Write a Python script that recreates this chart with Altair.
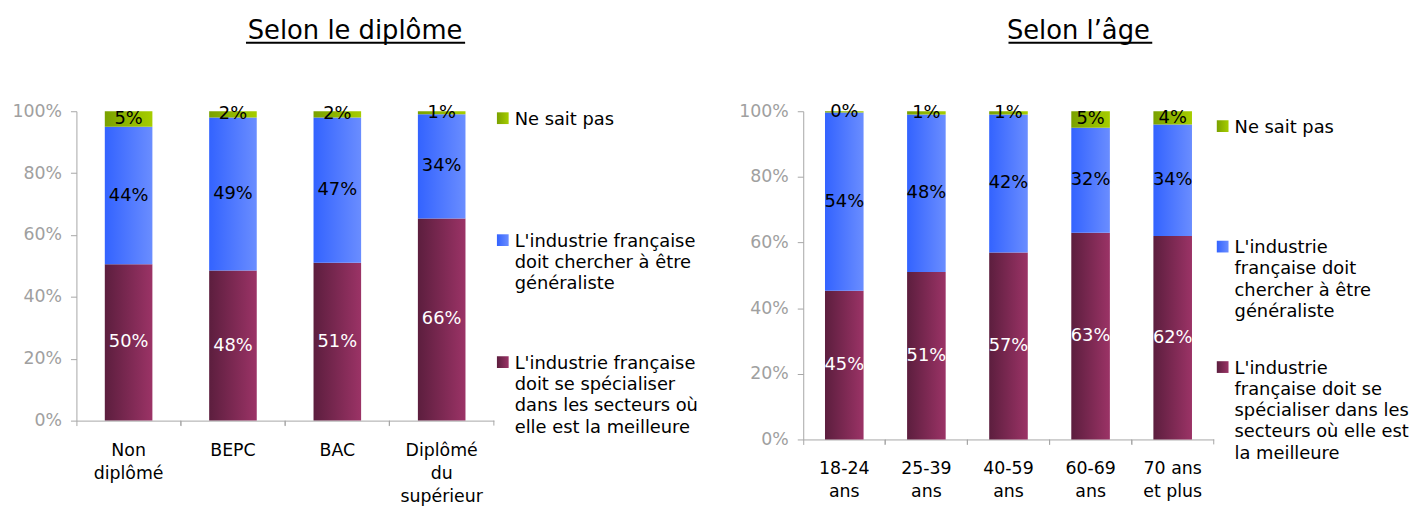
import altair as alt
import pandas as pd

FONT = "DejaVu Sans"
GRAY = "#a6a6a6"

# Series (stack order bottom -> top is SPE, GEN, NSP)
S_NSP = "Ne sait pas"
S_GEN = "L'industrie française doit chercher à être généraliste"
S_SPE = "L'industrie française doit se spécialiser dans les secteurs où elle est la meilleure"
series = [S_NSP, S_GEN, S_SPE]

# Panel 1 : Selon le diplôme
dip_cats = ["Non\ndiplômé", "BEPC", "BAC", "Diplômé\ndu\nsupérieur"]
dip_spe = [50, 48, 51, 66]
dip_gen = [44, 49, 47, 34]
dip_nsp = [5, 2, 2, 1]
dip_legend = ["Ne sait pas",
              "L'industrie française\ndoit chercher à être\ngénéraliste",
              "L'industrie française\ndoit se spécialiser\ndans les secteurs où\nelle est la meilleure"]

# Panel 2 : Selon l'âge
age_cats = ["18-24\nans", "25-39\nans", "40-59\nans", "60-69\nans", "70 ans\net plus"]
age_spe = [45, 51, 57, 63, 62]
age_gen = [54, 48, 42, 32, 34]
age_nsp = [0.4, 1, 1, 5, 4]
age_legend = ["Ne sait pas",
              "L'industrie\nfrançaise doit\nchercher à être\ngénéraliste",
              "L'industrie\nfrançaise doit se\nspécialiser dans les\nsecteurs où elle est\nla meilleure"]


def grad(c0, c1):
    return {"gradient": "linear", "x1": 0, "y1": 0, "x2": 1, "y2": 0,
            "stops": [{"offset": 0, "color": c0}, {"offset": 1, "color": c1}]}


FILLS = {
    S_SPE: grad("#5c1e3e", "#9b3366"),
    S_GEN: grad("#3363ff", "#6a8dff"),
    S_NSP: grad("#7aa100", "#a6cd00"),
}


def panel(cats, spe, gen, nsp, W, H, bandfrac, title, leg_labels, leg_range, ul, xpad):
    n = len(cats)
    df = pd.DataFrame({
        "cat": cats * 3,
        "series": [S_SPE] * n + [S_GEN] * n + [S_NSP] * n,
        "ord": [0] * n + [1] * n + [2] * n,
        "value": spe + gen + nsp,
    })
    xenc = alt.X("cat:N", sort=cats, title=None,
                 scale=alt.Scale(paddingInner=0, paddingOuter=0),
                 axis=alt.Axis(labelAngle=0, labelExpr="split(datum.label, '\\n')",
                               labelFontSize=17.5, labelColor="black", labelFont=FONT,
                               labelLineHeight=23.5, labelPadding=xpad, tickSize=5,
                               bandPosition=0, tickColor=GRAY, domainColor=GRAY))
    yscale = alt.Scale(domain=[0, 1], nice=False)
    yaxis = alt.Axis(values=[0, 0.2, 0.4, 0.6, 0.8, 1], format=".0%", grid=False,
                     labelFontSize=17.5, labelColor="#a0a0a0", labelFont=FONT,
                     tickSize=6, labelPadding=9, tickColor=GRAY, domainColor=GRAY)
    base = alt.Chart(df).transform_stack(
        stack="value", groupby=["cat"], as_=["y0", "y1"],
        sort=[alt.SortField("ord", order="ascending")], offset="normalize"
    ).transform_calculate(
        mid="(datum.y0 + datum.y1) / 2",
        lab="format(datum.value / 100, '.0%')",
    )
    layers = []
    for s in [S_SPE, S_GEN, S_NSP]:
        layers.append(
            base.transform_filter(alt.datum.series == s)
            .mark_bar(width=alt.RelativeBandSize(bandfrac), strokeWidth=0)
            .encode(x=xenc, y=alt.Y("y0:Q", scale=yscale, axis=yaxis, title=None),
                    y2="y1:Q", fill=alt.value(FILLS[s]))
        )
    text = base.mark_text(font=FONT, fontSize=18).encode(
        x=xenc,
        y=alt.Y("mid:Q", scale=yscale, axis=yaxis, title=None),
        text="lab:N",
        color=alt.condition(alt.datum.series == S_SPE, alt.value("white"), alt.value("black")),
    )
    edge = alt.Chart(pd.DataFrame({"cat": cats})).mark_rule(color=GRAY).encode(
        x=alt.X("cat:N", sort=cats, bandPosition=1, title=None,
                scale=alt.Scale(paddingInner=0, paddingOuter=0)),
        y=alt.value(H), y2=alt.value(H + 5),
    )
    underline = alt.Chart(pd.DataFrame({"u": [0]})).mark_rule(color="black", strokeWidth=2).encode(
        x=alt.value(ul[0]), x2=alt.value(ul[1]), y=alt.value(ul[2]),
    )
    bars = alt.layer(*layers, text, edge, underline).properties(width=W, height=H)

    ldf = pd.DataFrame({"series": series, "label": leg_labels})
    ly = alt.Y("series:N", sort=series, axis=None, title=None,
               scale=alt.Scale(type="point", range=leg_range, padding=0))
    lbase = alt.Chart(ldf)
    sym = []
    for s in series:
        sym.append(
            lbase.transform_filter(alt.datum.series == s)
            .mark_square(size=140, filled=True, opacity=1)
            .encode(x=alt.value(8), y=ly, fill=alt.value(FILLS[s]))
        )
    ltext = lbase.mark_text(font=FONT, fontSize=18, align="left", baseline="alphabetic",
                            dy=6.5, lineHeight=21.5, lineBreak="\n", color="black").encode(
        x=alt.value(20), y=ly, text="label:N")
    legend = alt.layer(*sym, ltext).properties(width=205, height=H)

    return alt.hconcat(bars, legend, spacing=0).properties(
        title=alt.Title(title, fontSize=26, font=FONT, fontWeight="normal", color="black",
                        anchor="middle", offset=-2)
    )


left = panel(dip_cats, dip_spe, dip_gen, dip_nsp, 421, 312, 0.456, "Selon le diplôme",
             dip_legend, [7, 253], (171, 392, -69), 16)
right = panel(age_cats, age_spe, age_gen, age_nsp, 414, 331, 0.47, "Selon l’âge",
              age_legend, [15, 258], (207, 352, -69), 15)

chart = alt.hconcat(left, right, spacing=40).properties(
    padding={"left": 3, "top": 8, "right": 0, "bottom": 0}
).configure_view(stroke=None)

chart.save("out.html", embed_options={"renderer": "svg", "actions": False})
